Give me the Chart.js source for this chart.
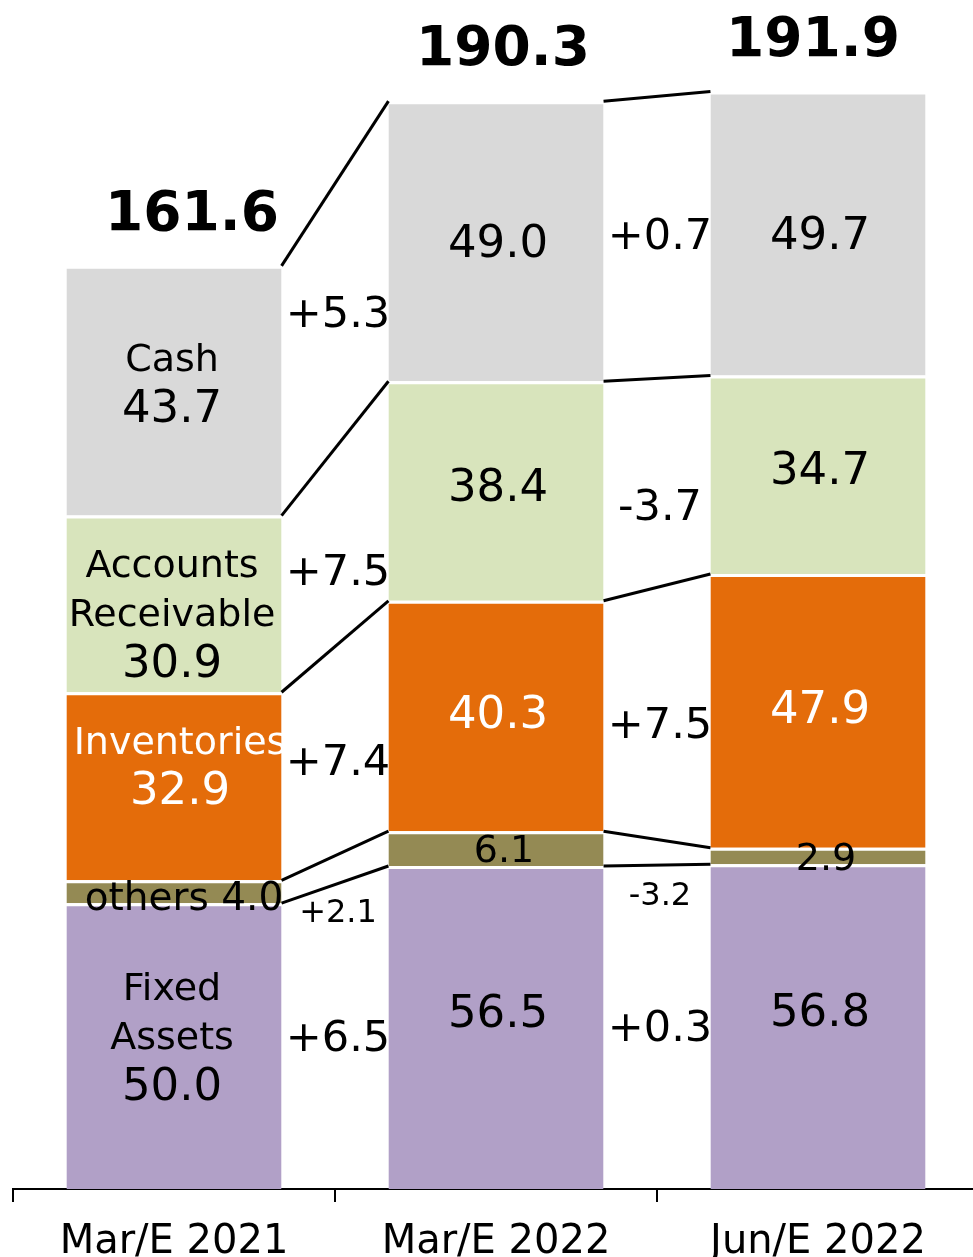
<!DOCTYPE html>
<html>
<head>
<meta charset="utf-8">
<script src="https://cdn.jsdelivr.net/npm/chart.js@4"></script>
<style>
html, body { margin: 0; padding: 0; background: #fff; overflow: hidden; }
#wrap { width: 973px; height: 1257px; overflow: hidden; }
canvas { display: block; }
</style>
</head>
<body>
<div id="wrap"><canvas id="chart" width="992" height="1257"></canvas></div>
<script>
// Balance sheet (assets) by period, bottom segment first
const categories = ['Mar/E 2021', 'Mar/E 2022', 'Jun/E 2022'];
const fixedAssets = [50.0, 56.5, 56.8];
const others = [4.0, 6.1, 2.9];
const inventories = [32.9, 40.3, 47.9];
const receivables = [30.9, 38.4, 34.7];
const cash = [43.7, 49.0, 49.7];
const totals = ['161.6', '190.3', '191.9'];

// changes between neighbouring periods, same order as the segments
const deltasFirst = ['+6.5', '+2.1', '+7.4', '+7.5', '+5.3'];
const deltasSecond = ['+0.3', '-3.2', '+7.5', '-3.7', '+0.7'];

const FONT = 'DejaVu Sans';

const segments = [
    { label: 'Fixed\nAssets', data: fixedAssets, color: '#b1a0c7', text: '#000', firstShift: -7, shift: -12 },
    { label: 'others', data: others, color: '#948a54', text: '#000', small: true, firstShift: 8, shift: 4 },
    { label: 'Inventories', data: inventories, color: '#e46c0a', text: '#fff', firstShift: -18, shift: 0 },
    { label: 'Accounts\nReceivable', data: receivables, color: '#d8e4bc', text: '#000', firstShift: 12, shift: -2 },
    { label: 'Cash', data: cash, color: '#d9d9d9', text: '#000', firstShift: -5, shift: 4 }
];

// extra downward shift for the change labels, per segment
const deltaShift = [3, 44, 13, 26, 0];
const totalShift = [18, 7, -5];

function drawText(ctx, str, x, y, size, color, bold) {
    ctx.font = (bold ? 'bold ' : '') + size + 'px "' + FONT + '"';
    ctx.fillStyle = color;
    ctx.textAlign = 'center';
    ctx.textBaseline = 'middle';
    ctx.fillText(str, x, y);
}

const bridgePlugin = {
    id: 'bridge',
    afterDatasetsDraw(chart) {
        const ctx = chart.ctx;
        const metas = segments.map((s, i) => chart.getDatasetMeta(i));
        ctx.save();

        // connector lines between the bars
        ctx.strokeStyle = '#000';
        ctx.lineWidth = 3;
        metas.forEach(meta => {
            for (let i = 0; i < categories.length - 1; i++) {
                const a = meta.data[i], b = meta.data[i + 1];
                ctx.beginPath();
                ctx.moveTo(a.x + a.width / 2, a.y);
                ctx.lineTo(b.x - b.width / 2, b.y);
                ctx.stroke();
            }
        });

        // values inside the segments
        metas.forEach((meta, d) => {
            const seg = segments[d];
            meta.data.forEach((el, i) => {
                const mid = (el.y + el.base) / 2;
                const value = seg.data[i].toFixed(1);
                if (i === 0) {
                    if (seg.small) {
                        drawText(ctx, seg.label + ' ' + value, el.x + 10, mid + seg.firstShift, 39, seg.text);
                        return;
                    }
                    const lines = seg.label.split('\n').concat([value]);
                    const step = 49;
                    let y = mid + seg.firstShift - (lines.length - 1) * step / 2;
                    lines.forEach((ln, k) => {
                        const isVal = k === lines.length - 1;
                        drawText(ctx, ln, el.x + (seg.text === '#fff' ? 6 : -2), y, isVal ? 45 : 38, seg.text);
                        y += step;
                    });
                } else {
                    drawText(ctx, value, el.x + (seg.small ? 8 : 2), mid + seg.shift, seg.small ? 38 : 45, seg.text);
                }
            });
        });

        // change labels in the gaps
        [deltasFirst, deltasSecond].forEach((deltas, g) => {
            metas.forEach((meta, d) => {
                const a = meta.data[g], b = meta.data[g + 1];
                const x = (a.x + a.width / 2 + b.x - b.width / 2) / 2 + 3;
                const topMid = (a.y + b.y) / 2;
                const botMid = (a.base + b.base) / 2;
                const y = (topMid + botMid) / 2 + deltaShift[d];
                drawText(ctx, deltas[d], x, y, segments[d].small ? 32 : 43, '#000');
            });
        });

        // totals above the bars
        const top = metas[metas.length - 1];
        top.data.forEach((el, i) => {
            drawText(ctx, totals[i], el.x + totalShift[i], el.y - 50, 55, '#000', true);
        });

        ctx.restore();
    }
};

new Chart(document.getElementById('chart'), {
    type: 'bar',
    data: {
        labels: categories,
        datasets: segments.map(s => ({
            label: s.label,
            data: s.data,
            backgroundColor: s.color,
            borderColor: '#ffffff',
            borderWidth: { top: 3, bottom: 0, left: 0, right: 0 },
            borderSkipped: false,
            barPercentage: 0.668,
            categoryPercentage: 1
        }))
    },
    options: {
        responsive: false,
        animation: false,
        devicePixelRatio: 1,
        layout: { padding: { left: 13, right: 13, top: 0, bottom: 0 } },
        plugins: {
            legend: { display: false },
            tooltip: { enabled: false }
        },
        scales: {
            x: {
                stacked: true,
                grid: {
                    offset: true,
                    drawOnChartArea: false,
                    color: '#000',
                    lineWidth: 2,
                    tickLength: 13
                },
                border: { color: '#000', width: 2 },
                ticks: {
                    color: '#000',
                    padding: 17,
                    font: { family: FONT, size: 40 }
                },
                afterFit(scale) { scale.height = 68; }
            },
            y: {
                stacked: true,
                display: false,
                min: 0,
                max: 208
            }
        }
    },
    plugins: [bridgePlugin]
});
</script>
</body>
</html>
